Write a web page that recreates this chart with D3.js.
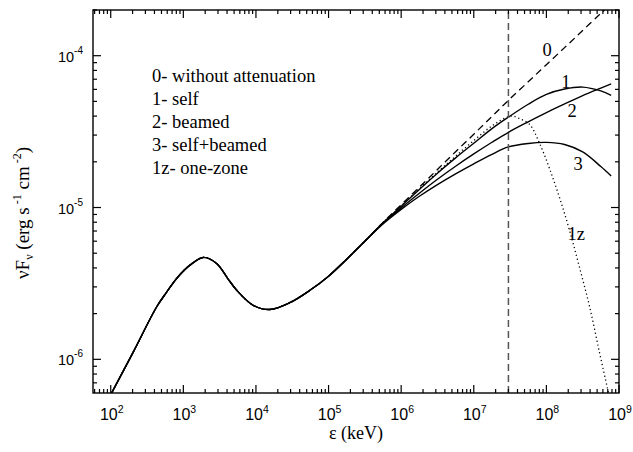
<!DOCTYPE html>
<html>
<head>
<meta charset="utf-8">
<script src="https://cdn.jsdelivr.net/npm/d3@7"></script>
<style>
  html, body { margin: 0; padding: 0; background: #fff; }
  svg { display: block; }
</style>
</head>
<body>
<svg id="chart" width="633" height="452"></svg>
<script>
// ---------------- data ----------------
const energyBase = [100, 205, 430, 589, 809, 1233, 1880, 2870, 4050, 5400, 9160, 15500, 29200, 56000, 1e5, 1.78e5, 3.16e5];
const fluxBase   = [5.85e-7, 1.12e-6, 2.22e-6, 2.77e-6, 3.41e-6, 4.17e-6, 4.69e-6, 4.28e-6, 3.43e-6, 2.86e-6, 2.27e-6, 2.13e-6, 2.36e-6, 2.86e-6, 3.53e-6, 4.57e-6, 6.0e-6];

const energyHigh = [5.62e5, 1e6, 1.78e6, 3.16e6, 5.62e6, 1e7, 1.78e7, 3e7, 5.62e7, 1e8, 1.78e8, 3.16e8, 5.62e8, 7.8e8];
const flux0 = [7.98e-6, 1.043e-5, 1.361e-5, 1.78e-5, 2.33e-5, 3.04e-5, 3.98e-5, 5.08e-5, 6.73e-5, 8.73e-5, 1.13e-4, 1.466e-4, 1.90e-4, 2.2e-4];
const flux1 = [7.93e-6, 1.019e-5, 1.315e-5, 1.683e-5, 2.123e-5, 2.65e-5, 3.31e-5, 3.94e-5, 4.79e-5, 5.56e-5, 6.03e-5, 6.21e-5, 5.86e-5, 5.48e-5];
const flux2 = [7.87e-6, 9.95e-6, 1.242e-5, 1.535e-5, 1.871e-5, 2.254e-5, 2.69e-5, 3.13e-5, 3.67e-5, 4.22e-5, 4.81e-5, 5.46e-5, 6.12e-5, 6.52e-5];
const flux3 = [7.80e-6, 9.72e-6, 1.186e-5, 1.416e-5, 1.667e-5, 1.941e-5, 2.24e-5, 2.506e-5, 2.642e-5, 2.685e-5, 2.60e-5, 2.323e-5, 1.862e-5, 1.614e-5];

const energy1z = [5.62e5, 1e6, 1.78e6, 3.16e6, 5.62e6, 1e7, 1.78e7, 3e7, 3.53e7, 4.27e7, 5.86e7, 8.04e7, 1.1e8, 1.51e8, 2.08e8, 2.85e8, 3.92e8, 5.37e8, 6.92e8, 7.85e8];
const flux1z   = [7.95e-6, 1.025e-5, 1.33e-5, 1.71e-5, 2.18e-5, 2.76e-5, 3.45e-5, 3.97e-5, 3.99e-5, 3.85e-5, 3.53e-5, 2.65e-5, 1.815e-5, 1.17e-5, 7.09e-6, 4.05e-6, 2.24e-6, 1.117e-6, 6.47e-7, 4.93e-7];

const cutoffEnergy = 3e7;

const xTickExps = [2, 3, 4, 5, 6, 7, 8, 9];
const yTickExps = [-6, -5, -4];

const legendLines = ["0- without attenuation", "1- self", "2- beamed", "3- self+beamed", "1z- one-zone"];
const curveLabels = [
  {text: "0",  e: 8.83e7, f: 1.0e-4},
  {text: "1",  e: 1.6e8,  f: 6.1e-5},
  {text: "2",  e: 1.95e8, f: 3.93e-5},
  {text: "3",  e: 2.36e8, f: 1.76e-5},
  {text: "1z", e: 1.95e8, f: 6.1e-6}
];

// ---------------- layout ----------------
const m = {left: 93, right: 619, top: 10, bottom: 393};
const svg = d3.select("#chart");
const x = d3.scaleLog().domain([57, 1e9]).range([m.left, m.right]);
const y = d3.scaleLog().domain([6e-7, 2e-4]).range([m.bottom, m.top]);

const SERIF = "'Liberation Serif', 'Times New Roman', serif";
const SANS = "'Liberation Sans', Arial, sans-serif";

svg.append("defs").append("clipPath").attr("id", "plotclip")
  .append("rect").attr("x", m.left).attr("y", m.top)
  .attr("width", m.right - m.left).attr("height", m.bottom - m.top);

const plot = svg.append("g").attr("clip-path", "url(#plotclip)");

const line = d3.line().x(d => x(d[0])).y(d => y(d[1])).curve(d3.curveCatmullRom.alpha(0.5));
const build = (es, fs) => es.map((e, i) => [e, fs[i]]);
const base = build(energyBase, fluxBase);

const series = [
  {pts: base.concat(build(energyHigh, flux3)), dash: null},
  {pts: base.concat(build(energyHigh, flux2)), dash: null},
  {pts: base.concat(build(energyHigh, flux1)), dash: null},
  {pts: base.concat(build(energy1z, flux1z)), dash: "1.2,2.8"},
  {pts: base.slice(-2).concat(build(energyHigh, flux0)), dash: "7,4.5"}
];
series.forEach(s => {
  plot.append("path").attr("d", line(s.pts))
    .attr("fill", "none").attr("stroke", "#000")
    .attr("stroke-width", s.dash ? 1.3 : 1.4)
    .attr("stroke-dasharray", s.dash);
});

// vertical cutoff line
plot.append("line")
  .attr("x1", x(cutoffEnergy)).attr("x2", x(cutoffEnergy))
  .attr("y1", m.bottom).attr("y2", m.top)
  .attr("stroke", "#555").attr("stroke-width", 1.5)
  .attr("stroke-dasharray", "7,4");

// ---------------- axes frame & ticks ----------------
const axes = svg.append("g");
axes.append("rect").attr("x", m.left).attr("y", m.top)
  .attr("width", m.right - m.left).attr("height", m.bottom - m.top)
  .attr("fill", "none").attr("stroke", "#000").attr("stroke-width", 1.4);

const xMinor = [], yMinor = [];
for (let d = 1; d <= 8; d++) for (let k = 2; k <= 9; k++) {
  const v = k * Math.pow(10, d);
  if (v > 57 && v < 1e9) xMinor.push(v);
}
for (let d = -7; d <= -4; d++) for (let k = 2; k <= 9; k++) {
  const v = k * Math.pow(10, d);
  if (v > 6e-7 && v <= 2e-4) yMinor.push(v);
}
const xMajor = xTickExps.map(e => Math.pow(10, e));
const yMajor = yTickExps.map(e => Math.pow(10, e));

function tickX(v, len) {
  const px = x(v);
  axes.append("line").attr("x1", px).attr("x2", px).attr("y1", m.bottom).attr("y2", m.bottom - len)
    .attr("stroke", "#000").attr("stroke-width", 1.2);
  axes.append("line").attr("x1", px).attr("x2", px).attr("y1", m.top).attr("y2", m.top + len)
    .attr("stroke", "#000").attr("stroke-width", 1.2);
}
function tickY(v, len) {
  const py = y(v);
  axes.append("line").attr("x1", m.left).attr("x2", m.left + len).attr("y1", py).attr("y2", py)
    .attr("stroke", "#000").attr("stroke-width", 1.2);
  axes.append("line").attr("x1", m.right).attr("x2", m.right - len).attr("y1", py).attr("y2", py)
    .attr("stroke", "#000").attr("stroke-width", 1.2);
}
xMinor.forEach(v => tickX(v, 4));
xMajor.forEach(v => tickX(v, 8));
yMinor.forEach(v => tickY(v, 4));
yMajor.forEach(v => tickY(v, 8));

// x tick labels
xTickExps.forEach(e => {
  const t = axes.append("text").attr("x", x(Math.pow(10, e)) + 1).attr("y", 420)
    .attr("text-anchor", "middle").attr("font-size", 16).attr("fill", "#000")
    .style("font-family", SANS);
  t.append("tspan").text("10");
  t.append("tspan").attr("dy", -7).attr("font-size", 10.5).text(e);
});
// y tick labels
yTickExps.forEach(e => {
  const t = axes.append("text").attr("x", 83).attr("y", y(Math.pow(10, e)) + 6)
    .attr("text-anchor", "end").attr("font-size", 14.5).attr("fill", "#000")
    .style("font-family", SANS);
  t.append("tspan").text("10");
  t.append("tspan").attr("dy", -8).attr("font-size", 10).text(e);
});

// axis titles
svg.append("text").attr("x", (m.left + m.right) / 2).attr("y", 439)
  .attr("text-anchor", "middle").attr("font-size", 18)
  .style("font-family", SERIF)
  .text("ε (keV)");

const yt = svg.append("text").attr("transform", "translate(29,213) rotate(-90)")
  .attr("text-anchor", "middle").attr("font-size", 19)
  .style("font-family", SERIF);
yt.append("tspan").text("νF");
yt.append("tspan").attr("dy", 4).attr("font-size", 12).text("ν");
yt.append("tspan").attr("dy", -4).text(" (erg s");
yt.append("tspan").attr("dx", 3).attr("dy", -8).attr("font-size", 12).text("-1");
yt.append("tspan").attr("dy", 8).text(" cm");
yt.append("tspan").attr("dx", 3).attr("dy", -8).attr("font-size", 12).text("-2");
yt.append("tspan").attr("dy", 8).text(")");

// legend text
legendLines.forEach((s, i) => {
  svg.append("text").attr("x", 152).attr("y", 81.5 + i * 23)
    .attr("font-size", 18.5).style("font-family", SERIF).text(s);
});

// curve labels
curveLabels.forEach(c => {
  svg.append("text").attr("x", x(c.e)).attr("y", y(c.f))
    .attr("font-size", 18.5).style("font-family", SERIF).text(c.text);
});
</script>
</body>
</html>
